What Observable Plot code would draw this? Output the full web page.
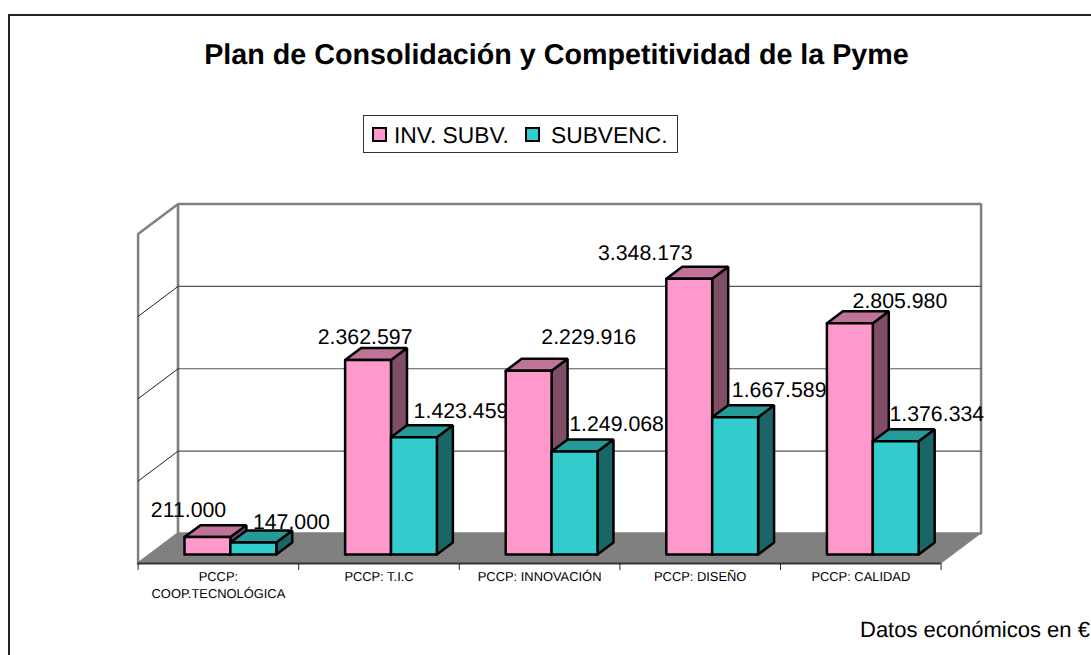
<!DOCTYPE html>
<html lang="es">
<head>
<meta charset="utf-8">
<title>Plan de Consolidación y Competitividad de la Pyme</title>
<script src="https://cdn.jsdelivr.net/npm/d3@7"></script>
<script src="https://cdn.jsdelivr.net/npm/@observablehq/plot@0.6"></script>
<style>
  html, body { margin: 0; padding: 0; background: #fff; overflow: hidden; width: 1091px; height: 655px; }
  body { position: relative; font-family: "Liberation Sans", Arial, sans-serif; color: #000; text-rendering: geometricPrecision; }
  #frame { position: absolute; left: 8px; top: 14px; width: 1300px; height: 900px; border: 2px solid #222; }
  #chart { position: absolute; left: 0; top: 0; }
  #chart svg { background: transparent; text-rendering: geometricPrecision; }
  h1 { position: absolute; left: 0; top: 38px; width: 1113px; margin: 0; text-align: center; font-size: 28.7px; line-height: 34px; font-weight: bold; }
  #legend { position: absolute; left: 363px; top: 115px; width: 313px; height: 36px; border: 1px solid #333; box-sizing: content-box; font-size: 22.8px; }
  #legend i { position: absolute; top: 11px; width: 11px; height: 11px; border: 2px solid #000; }
  #legend span { position: absolute; top: 6px; line-height: 26px; white-space: nowrap; }
  #caption { position: absolute; left: 860px; top: 618px; font-size: 22px; line-height: 24px; white-space: nowrap; }
</style>
</head>
<body>
<div id="frame"></div>
<div id="chart"></div>
<h1>Plan de Consolidación y Competitividad de la Pyme</h1>
<div id="legend"></div>
<div id="caption">Datos económicos en €</div>
<script>
// Data
const categories = ["PCCP:\nCOOP.TECNOLÓGICA", "PCCP: T.I.C", "PCCP: INNOVACIÓN", "PCCP: DISEÑO", "PCCP: CALIDAD"];
const invSubv = [211000, 2362597, 2229916, 3348173, 2805980];
const subvenc = [147000, 1423459, 1249068, 1667589, 1376334];
const seriesNames = ["INV. SUBV.", "SUBVENC."];
const gridValues = [1000000, 2000000, 3000000];
const yMax = 4000000;

// Colours of the two series: front, top, side
const faceColors = [
  {front: "#FF99CC", top: "#BF7399", side: "#804D66"},
  {front: "#33CCCC", top: "#269999", side: "#1A6666"}
];

// Oblique projection of the 3-D box, in scale units
const depthX = 0.249;     // one full depth, in category units
const depthY = 364000;    // one full depth, in value units
const barDepth = [0.3, 0.7];
const barWidth = 1 / 3.5;
const P = (c, v, d = 0) => ({x: c + d * depthX, y: v + d * depthY});

// Hand-placed data labels as in the original: pixel nudge from each bar's back-top corner
const labelNudge = [
  [[-12, -15], [4, -11], [67, -22], [-37, -14], [57, -10]],
  [[45, -8], [54, -14], [49, -15], [51, -15], [48, -15]]
];

const fmt = (n) => d3.format(",")(n).replace(/,/g, ".");
const n = categories.length;
const poly = (id, fill, pts) => [...pts, pts[0]].map((p) => ({...p, id, fill}));
const xy = {x: "x", y: "y"};

// Walls and floor
const shell = [
  ...poly("left", "#fff", [P(0, 0), P(0, yMax), P(0, yMax, 1), P(0, 0, 1)]),
  ...poly("back", "#fff", [P(0, 0, 1), P(0, yMax, 1), P(n, yMax, 1), P(n, 0, 1)])
];
const floor = poly("floor", "#808080", [P(0, 0), P(n, 0), P(n, 0, 1), P(0, 0, 1)]);
const gridBack = gridValues.flatMap((v) => [P(0, v, 1), P(n, v, 1)].map((p) => ({...p, v})));
const gridLeft = gridValues.flatMap((v) => [P(0, v, 0), P(0, v, 1)].map((p) => ({...p, v})));
const ticks = d3.range(n + 1).map((c) => ({c}));

function barFaces(i) {
  return [invSubv, subvenc].flatMap((vals, s) => {
    const c0 = i + 0.5 - barWidth + s * barWidth, c1 = c0 + barWidth, v = vals[i];
    const [d0, d1] = barDepth, col = faceColors[s];
    return [
      ...poly(`${i}${s}side`, col.side, [P(c1, 0, d0), P(c1, v, d0), P(c1, v, d1), P(c1, 0, d1)]),
      ...poly(`${i}${s}top`, col.top, [P(c0, v, d0), P(c1, v, d0), P(c1, v, d1), P(c0, v, d1)]),
      ...poly(`${i}${s}front`, col.front, [P(c0, 0, d0), P(c1, 0, d0), P(c1, v, d0), P(c0, v, d0)])
    ];
  });
}

function labelMarks(i) {
  return [invSubv, subvenc].map((vals, s) => {
    const c0 = i + 0.5 - barWidth + s * barWidth;
    const a = P(c0, vals[i], barDepth[1]);
    const [dx, dy] = labelNudge[s][i];
    return Plot.text([{...a, t: fmt(vals[i])}], {
      x: "x", y: "y", text: "t", dx, dy,
      fontSize: 21.3, fill: "#000", textAnchor: "middle", lineAnchor: "middle",
      fontFamily: "Liberation Sans, Arial, sans-serif"
    });
  });
}

const plot = Plot.plot({
  width: 1091, height: 655,
  margin: 0,
  x: {type: "linear", domain: [0, n], range: [137.6, 940.6], axis: null},
  y: {type: "linear", domain: [0, yMax], range: [563, 233.5], axis: null},
  color: {type: "identity"},
  marks: [
    Plot.line(shell, {...xy, z: "id", fill: "fill", stroke: "#808080", strokeWidth: 2.5, strokeLinejoin: "miter", curve: "linear"}),
    Plot.line(floor, {...xy, z: "id", fill: "fill", stroke: "none", curve: "linear"}),
    Plot.line(gridBack, {...xy, z: "v", stroke: "#555", strokeWidth: 1.2}),
    Plot.line(gridLeft, {...xy, z: "v", stroke: "#222", strokeWidth: 1}),
    Plot.ruleX(ticks, {x: "c", y1: 0, y2: -85000, stroke: "#222", strokeWidth: 1}),
    Plot.ruleY([0], {x1: 0, x2: n, stroke: "#333", strokeWidth: 2}),
    Plot.text(categories, {
      x: (d, i) => i + 0.5, y: () => 0, text: (d) => d, dy: 5,
      fontSize: 12.9, fill: "#000", lineAnchor: "top", lineHeight: 1.33,
      fontFamily: "Liberation Sans, Arial, sans-serif"
    }),
    ...d3.range(n).flatMap((i) => [
      ...labelMarks(i),
      Plot.line(barFaces(i), {...xy, z: "id", fill: "fill", stroke: "#000", strokeWidth: 2.5, strokeLinejoin: "miter", curve: "linear"})
    ])
  ]
});
document.getElementById("chart").append(plot);

// Legend, built from the series names and colours
const legend = document.getElementById("legend");
const swatchX = [8, 161], textX = [30, 187];
seriesNames.forEach((name, s) => {
  const sw = document.createElement("i");
  sw.style.left = swatchX[s] + "px";
  sw.style.background = faceColors[s].front;
  const t = document.createElement("span");
  t.style.left = textX[s] + "px";
  t.textContent = name;
  legend.append(sw, t);
});
</script>
</body>
</html>
